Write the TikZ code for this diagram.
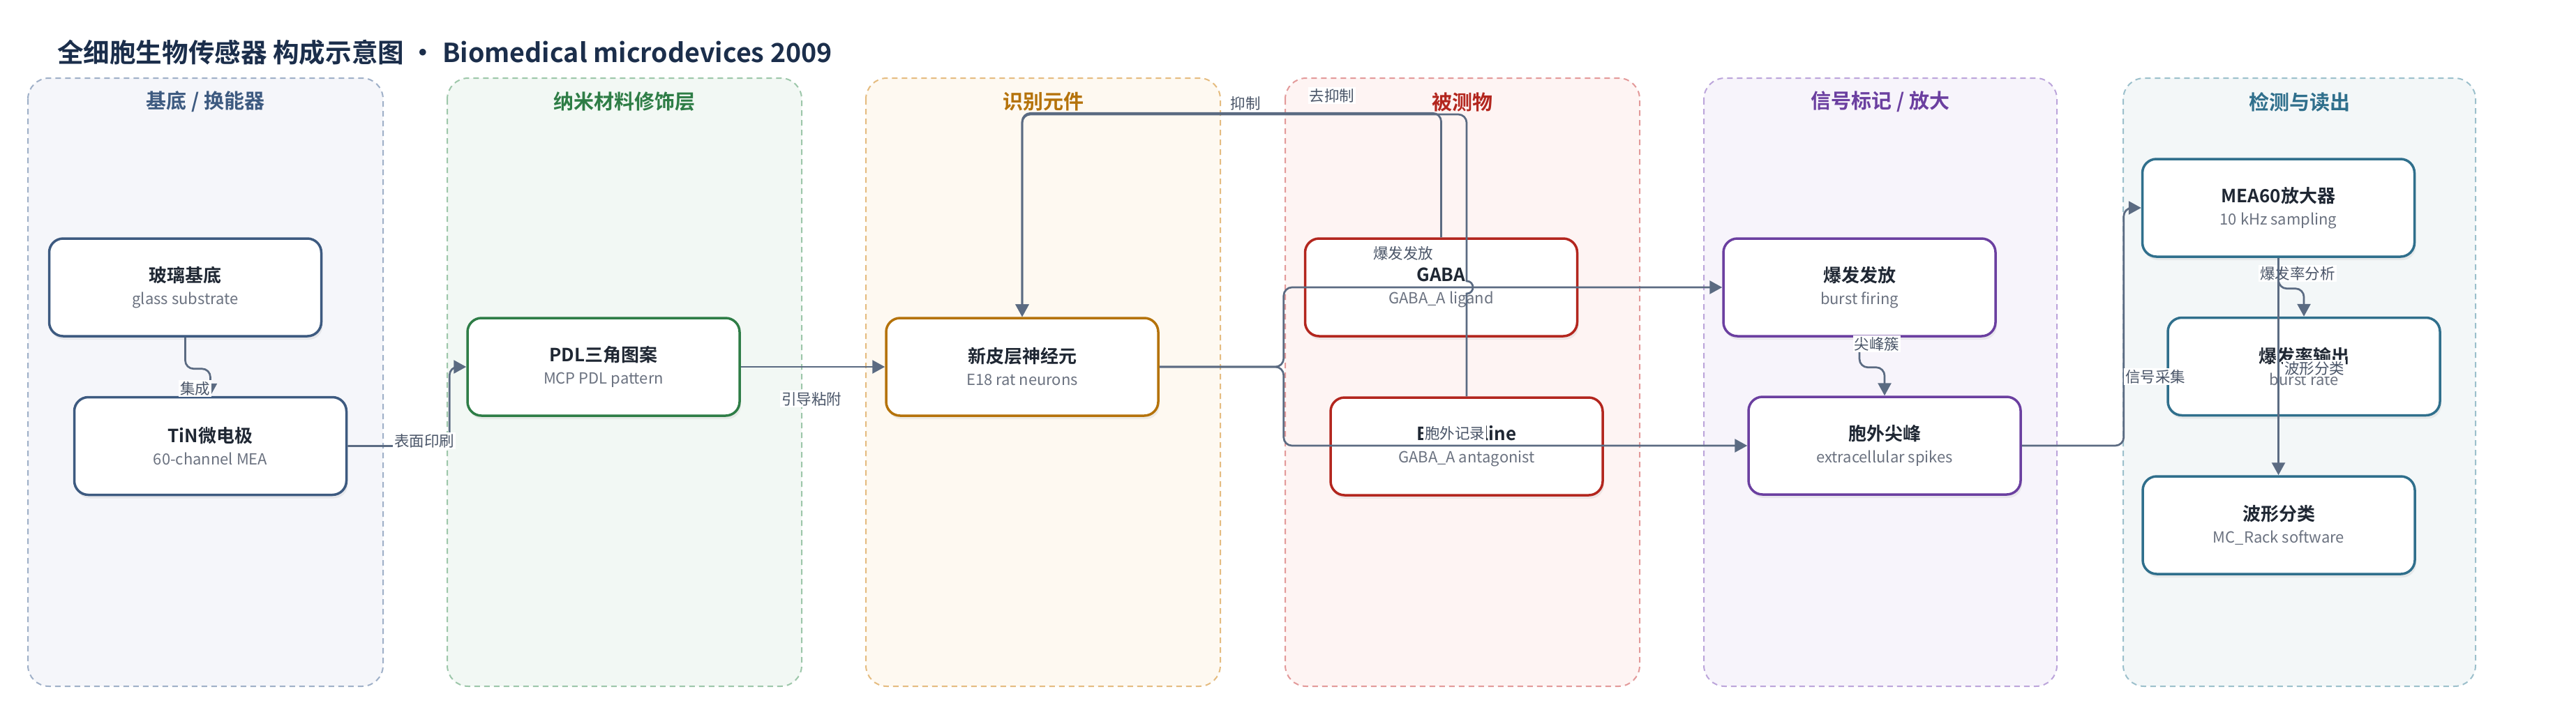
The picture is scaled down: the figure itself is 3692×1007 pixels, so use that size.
\documentclass[tikz,border=0pt]{standalone}
\usepackage{fontspec}
\setmainfont{Noto Sans CJK SC}[BoldFont={* Bold}]
\usepackage[HTML]{xcolor}
\usepackage{tikz}
\usetikzlibrary{positioning, arrows.meta, shadows}

\definecolor{titlec}{HTML}{1B2E4B}
\definecolor{ttlc}{HTML}{1F2733}
\definecolor{subc}{HTML}{6B7280}
\definecolor{labc}{HTML}{4A5568}
\definecolor{edgec}{HTML}{5B6B82}
% lane tints, lane borders, box colours
\definecolor{subfill}{HTML}{F5F6FA}\definecolor{subline}{HTML}{9FB0C8}\definecolor{subbox}{HTML}{3D5A80}
\definecolor{nanofill}{HTML}{F2F8F4}\definecolor{nanoline}{HTML}{9DC7AA}\definecolor{nanobox}{HTML}{2E7D46}
\definecolor{recfill}{HTML}{FEF9F1}\definecolor{recline}{HTML}{E5BC80}\definecolor{recbox}{HTML}{B5730B}
\definecolor{anafill}{HTML}{FEF4F3}\definecolor{analine}{HTML}{E39A9A}\definecolor{anabox}{HTML}{B3261E}
\definecolor{sigfill}{HTML}{F7F4FB}\definecolor{sigline}{HTML}{BCA5DB}\definecolor{sigbox}{HTML}{6B3FA0}
\definecolor{detfill}{HTML}{F3F7F8}\definecolor{detline}{HTML}{9CC0CC}\definecolor{detbox}{HTML}{2F6F8C}

\newcommand{\boxtext}[2]{{\fontsize{13}{15}\selectfont\bfseries\color{ttlc}#1}\\[4pt]{\fontsize{11}{13}\selectfont\color{subc}#2}}

\begin{document}
\begin{tikzpicture}[x=0.5pt, y=-0.5pt,
  lane/.style={dash pattern=on 4pt off 3pt, line width=1pt, rounded corners=15pt},
  lanetitle/.style={font=\fontsize{14.5}{17}\selectfont\bfseries},
  box/.style={draw=#1, line width=1.75pt, fill=white, rounded corners=10pt,
    minimum width=195pt, minimum height=70pt, align=center, inner sep=0pt,
    drop shadow={shadow xshift=1pt, shadow yshift=-2.5pt, opacity=0.12}},
  conn/.style={draw=edgec, line width=1.35pt, rounded corners=6pt, -{Triangle[length=9pt, width=9.5pt]}},
  elabel/.style={fill=white, inner sep=1pt, text=labc, font=\fontsize{10.75}{12}\selectfont}
]
\fill[white] (0,0) rectangle (3692,1007);
\useasboundingbox (0,0) rectangle (3692,1007);

% --- Title ---
\node[anchor=west, font=\fontsize{18.8}{22}\selectfont\bfseries, text=titlec] (title) at (75,75)
  {全细胞生物传感器 构成示意图 • Biomedical microdevices 2009};

% --- Lanes ---
\draw[lane, draw=subline, fill=subfill] (40,112) rectangle (549,984);
\draw[lane, draw=nanoline, fill=nanofill] (641,112) rectangle (1149,984);
\draw[lane, draw=recline, fill=recfill] (1241,112) rectangle (1749,984);
\draw[lane, draw=analine, fill=anafill] (1842,112) rectangle (2350,984);
\draw[lane, draw=sigline, fill=sigfill] (2442,112) rectangle (2948,984);
\draw[lane, draw=detline, fill=detfill] (3043,112) rectangle (3548,984);

\node[lanetitle, text=subbox] (tsub) at (294.5,146) {基底 / 换能器};
\node[lanetitle, text=nanobox] (tnano) at (895,146) {纳米材料修饰层};
\node[lanetitle, text=recbox] (trec) at (1495,146) {识别元件};
\node[lanetitle, text=anabox] (tana) at (2096,146) {被测物};
\node[lanetitle, text=sigbox] (tsig) at (2695,146) {信号标记 / 放大};
\node[lanetitle, text=detbox] (tdet) at (3295.5,146) {检测与读出};

% --- Components ---
\node[box=subbox] (glass) at (265.5,412) {\boxtext{玻璃基底}{glass substrate}};
\node[box=subbox] (tin) at (301.5,639.5) {\boxtext{TiN微电极}{60-channel MEA}};
\node[box=nanobox] (pdl) at (865,526) {\boxtext{PDL三角图案}{MCP PDL pattern}};
\node[box=recbox] (neuron) at (1465,526) {\boxtext{新皮层神经元}{E18 rat neurons}};
\node[box=anabox] (gaba) at (2065.5,412) {\boxtext{GABA}{GABA\_A ligand}};
\node[box=anabox] (bicu) at (2102,640) {\boxtext{Bicuculline}{GABA\_A antagonist}};
\node[box=sigbox] (burst) at (2665,412) {\boxtext{爆发发放}{burst firing}};
\node[box=sigbox] (spikes) at (2701,639) {\boxtext{胞外尖峰}{extracellular spikes}};
\node[box=detbox] (mea) at (3265.5,298) {\boxtext{MEA60放大器}{10 kHz sampling}};
\node[box=detbox] (rate) at (3302,525.5) {\boxtext{爆发率输出}{burst rate}};
\node[box=detbox] (wave) at (3266,753) {\boxtext{波形分类}{MC\_Rack software}};

% --- Connectors ---
\draw[conn] (glass.south) -- ++(0,45) -| (tin.north);
\node[elabel] (l1) at (279.5,557) {集成};
\draw[conn] (tin.east) -- ++(146,0) |- (pdl.west);
\node[elabel] (l2) at (608,632) {表面印刷};
\draw[conn] (pdl.east) -- (neuron.west);
\node[elabel] (l3) at (1163,572) {引导粘附};
\draw[conn] (neuron.east) -- ++(178,0) |- (burst.west);
\node[elabel] (l4) at (2011,363) {爆发发放};
\draw[conn] (neuron.east) -- ++(178,0) |- (spikes.west);
\node[elabel] (l5) at (2085,621) {胞外记录};
\draw[conn] (gaba.north) -- ++(0,-178) -| (neuron.north);
\node[elabel] (l6) at (1785,148) {抑制};
\draw[conn, sharp corners] (bicu.north) -- (bicu.north |- 0,421)
  .. controls (2114,421) and (2114,403) .. (2102,403)
  [rounded corners=6pt] -- (2102,164) -| (neuron.north);
\node[elabel] (l7) at (1909,137) {去抑制};
\draw[conn] (burst.south) -- ++(0,43) -| (spikes.north);
\node[elabel] (l8) at (2690,493) {尖峰簇};
\draw[conn] (spikes.east) -- ++(146,0) |- (mea.west);
\node[elabel] (l9) at (3089,540) {信号采集};
\draw[conn] (mea.south) -- ++(0,44) -| (rate.north);
\node[elabel] (l10) at (3293,392) {爆发率分析};
\draw[conn] (mea.south) -- (mea.south |- wave.north);
\node[elabel] (l11) at (3317,528) {波形分类};
\end{tikzpicture}
\end{document}
